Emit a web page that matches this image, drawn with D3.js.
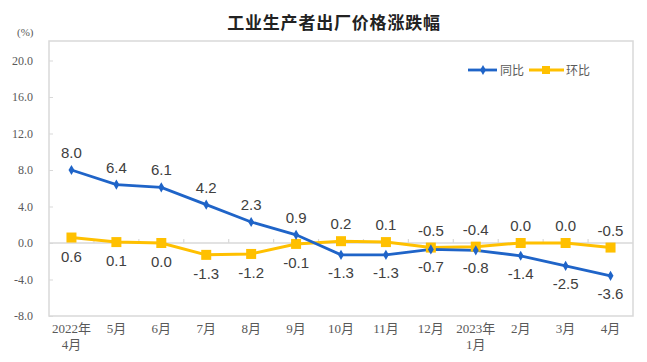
<!DOCTYPE html>
<html><head><meta charset="utf-8">
<script src="https://cdn.jsdelivr.net/npm/d3@7"></script>
<style>
html,body{margin:0;padding:0;background:#fff;}
svg{display:block;}
</style></head>
<body>
<svg id="chart" width="647" height="362"></svg>
<script>
const categories = ["2022年\n4月","5月","6月","7月","8月","9月","10月","11月","12月","2023年\n1月","2月","3月","4月"];
const yoyValues = [8.0, 6.4, 6.1, 4.2, 2.3, 0.9, -1.3, -1.3, -0.7, -0.8, -1.4, -2.5, -3.6];
const momValues = [0.6, 0.1, 0.0, -1.3, -1.2, -0.1, 0.2, 0.1, -0.5, -0.4, 0.0, 0.0, -0.5];
const yTicks = [-8, -4, 0, 4, 8, 12, 16, 20];
const seriesNames = ["同比", "环比"];
const title = "工业生产者出厂价格涨跌幅";

const BLUE = "#1F64C8", YELLOW = "#FFC000", GRID = "#D9D9D9", TXT = "#595959";
const svg = d3.select("#chart");
const frame = {left: 49, right: 633, top: 41, bottom: 316};

const x = d3.scalePoint().domain(d3.range(categories.length)).range([frame.left, frame.right]).padding(0.5);
const y = d3.scaleLinear().domain([-8, 20]).range([frame.bottom, 60.5]);
const step = x.step();
const fmt = d3.formatLocale({decimal: ".", thousands: ",", grouping: [3], currency: ["", ""], minus: "-"}).format(".1f");

// title
svg.append("text").attr("x", 334).attr("y", 29).attr("text-anchor", "middle")
  .attr("font-family", "'Noto Sans CJK SC', sans-serif").attr("font-size", 17).attr("font-weight", "bold")
  .attr("letter-spacing", 0.8).attr("fill", "#222").text(title);

// unit
svg.append("text").attr("x", 17).attr("y", 36).attr("font-family", "'Liberation Serif', serif")
  .attr("font-size", 11).attr("fill", TXT).text("(%)");

// frame
svg.append("rect").attr("x", frame.left).attr("y", frame.top)
  .attr("width", frame.right - frame.left).attr("height", frame.bottom - frame.top)
  .attr("fill", "none").attr("stroke", GRID).attr("stroke-width", 1.5);

// y axis
const yAxis = d3.axisLeft(y).tickValues(yTicks).tickFormat(fmt).tickSize(-4).tickPadding(16);
const ya = svg.append("g").attr("transform", `translate(${frame.left},0)`).call(yAxis);
ya.select(".domain").remove();
ya.selectAll("line").attr("stroke", GRID);
ya.selectAll("text").attr("font-family", "'Liberation Serif', serif").attr("font-size", 12).attr("fill", TXT);

// zero line
svg.append("line").attr("x1", frame.left).attr("x2", frame.right).attr("y1", y(0)).attr("y2", y(0))
  .attr("stroke", GRID).attr("stroke-width", 1.5);
// boundary ticks on zero line
svg.append("g").selectAll("line").data(d3.range(1, categories.length)).join("line")
  .attr("x1", i => x(i) - step / 2).attr("x2", i => x(i) - step / 2)
  .attr("y1", y(0)).attr("y2", y(0) - 4).attr("stroke", GRID).attr("stroke-width", 1.2);

// x labels
const xl = svg.append("g").selectAll("text").data(categories).join("text")
  .attr("x", (d, i) => x(i)).attr("y", 333).attr("text-anchor", "middle")
  .attr("font-family", "'Liberation Serif', 'Noto Sans CJK SC', serif").attr("font-size", 13).attr("fill", TXT);
xl.each(function(d) {
  const parts = d.split("\n");
  d3.select(this).selectAll("tspan").data(parts).join("tspan")
    .attr("x", d3.select(this).attr("x")).attr("dy", (p, j) => j === 0 ? 0 : 16).text(p => p);
});

// lines
const line = d3.line().x((d, i) => x(i)).y(d => y(d));
svg.append("path").datum(momValues).attr("d", line).attr("fill", "none")
  .attr("stroke", YELLOW).attr("stroke-width", 3);
svg.append("path").datum(yoyValues).attr("d", line).attr("fill", "none")
  .attr("stroke", BLUE).attr("stroke-width", 2.8);

// markers
svg.append("g").selectAll("rect").data(momValues).join("rect")
  .attr("x", (d, i) => x(i) - 5).attr("y", d => y(d) - 5).attr("width", 10).attr("height", 10)
  .attr("fill", YELLOW);
svg.append("g").selectAll("path").data(yoyValues).join("path")
  .attr("transform", (d, i) => `translate(${x(i)},${y(d)})`)
  .attr("d", d3.symbol(d3.symbolDiamond, 30)).attr("fill", BLUE);

// data labels
const lblFont = "'Liberation Sans', Arial, sans-serif";
svg.append("g").selectAll("text").data(yoyValues).join("text")
  .attr("x", (d, i) => x(i))
  .attr("y", (d, i) => d >= momValues[i] ? y(d) - 12 : y(d) + 23)
  .attr("text-anchor", "middle").attr("font-family", lblFont).attr("font-size", 15).attr("fill", "#404040")
  .text(d => fmt(d));
svg.append("g").selectAll("text").data(momValues).join("text")
  .attr("x", (d, i) => x(i))
  .attr("y", (d, i) => yoyValues[i] >= d ? y(d) + 24 : y(d) - 12)
  .attr("text-anchor", "middle").attr("font-family", lblFont).attr("font-size", 15).attr("fill", "#404040")
  .text(d => fmt(d));

// legend
const lg = svg.append("g");
lg.append("line").attr("x1", 468).attr("x2", 497).attr("y1", 70).attr("y2", 70).attr("stroke", BLUE).attr("stroke-width", 2.8);
lg.append("path").attr("transform", "translate(483,70)").attr("d", d3.symbol(d3.symbolDiamond, 30)).attr("fill", BLUE);
lg.append("text").attr("x", 500).attr("y", 74.5).attr("font-family", "'Noto Sans CJK SC', sans-serif")
  .attr("font-size", 12).attr("fill", TXT).text(seriesNames[0]);
lg.append("line").attr("x1", 529).attr("x2", 564).attr("y1", 70).attr("y2", 70).attr("stroke", YELLOW).attr("stroke-width", 3);
lg.append("rect").attr("x", 542).attr("y", 66).attr("width", 8).attr("height", 8).attr("fill", YELLOW);
lg.append("text").attr("x", 566).attr("y", 74.5).attr("font-family", "'Noto Sans CJK SC', sans-serif")
  .attr("font-size", 12).attr("fill", TXT).text(seriesNames[1]);
</script>
</body></html>
